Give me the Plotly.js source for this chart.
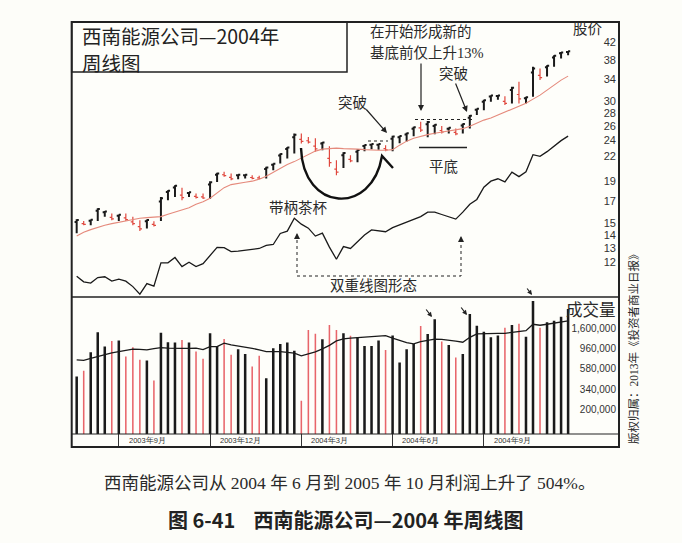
<!DOCTYPE html>
<html><head><meta charset="utf-8">
<script src="https://cdn.plot.ly/plotly-3.0.1.min.js"></script>
<style>html,body{margin:0;padding:0;background:#fdfdf9;} #chart{width:682px;height:543px;}</style>
</head><body><div id="chart"></div>
<script>
// ---- weekly data (≈ Jul 2003 – Nov 2004) ----
const openP = [15.09,14.95,15.20,16.07,15.95,15.48,15.63,15.44,15.10,14.69,15.15,14.88,
 16.95,17.88,18.36,17.58,17.80,17.45,17.40,18.66,19.75,19.74,19.44,19.67,
 19.69,19.43,19.40,20.39,20.89,22.03,22.84,24.42,24.14,23.95,23.22,23.58,
 21.67,20.39,22.06,21.55,22.50,23.26,23.41,23.40,22.89,24.24,24.45,24.83,
 25.66,25.77,26.32,26.04,25.39,25.66,25.12,26.14,27.32,28.58,29.91,30.82,
 30.89,29.96,31.97,31.17,30.53,35.34,34.76,36.38,38.50,39.41,39.72];
const highP = [15.33,15.17,15.30,16.30,16.05,15.84,15.75,15.84,15.53,15.24,15.30,15.15,
 17.40,18.08,18.60,18.32,17.90,17.74,17.74,19.03,19.95,20.07,19.89,19.78,
 19.78,19.69,19.62,20.65,21.05,22.28,23.13,24.96,24.96,24.48,24.30,23.80,
 23.20,21.45,22.45,22.07,22.83,23.43,23.56,23.56,23.36,24.66,24.66,25.08,
 25.93,26.68,26.79,26.33,26.04,25.84,25.70,26.43,27.72,28.80,30.26,31.05,
 31.05,30.88,32.56,33.50,30.76,36.49,36.16,36.84,39.00,39.70,39.90];
const lowP = [14.15,14.81,14.81,15.17,15.53,15.24,15.17,15.17,14.81,14.32,14.53,14.70,
 15.17,17.08,17.40,17.08,17.40,17.25,17.18,17.18,18.95,19.52,19.14,19.25,
 19.33,19.25,19.25,19.33,20.26,21.05,21.66,22.28,23.59,23.59,22.50,22.70,
 20.65,19.69,20.50,21.20,21.20,22.57,22.83,22.77,22.57,22.57,23.63,23.84,
 24.59,25.16,24.45,24.87,24.96,24.96,24.73,24.96,25.70,27.72,28.51,29.90,
 30.26,29.34,29.62,29.62,29.62,30.76,33.83,34.52,36.49,38.27,39.00];
const closeP = [15.26,14.88,15.27,16.23,16.02,15.36,15.72,15.30,14.95,14.50,15.25,14.79,
 17.27,18.02,18.53,17.33,17.87,17.35,17.29,18.92,19.89,19.63,19.29,19.75,
 19.75,19.34,19.32,20.57,21.00,22.21,23.04,24.80,23.86,23.77,22.86,23.73,
 21.16,20.04,22.33,21.37,22.73,23.38,23.52,23.51,22.73,24.53,24.60,25.01,
 25.85,25.46,26.65,26.24,25.18,25.79,24.92,26.34,27.60,28.74,30.16,30.98,
 31.00,29.65,32.38,30.40,30.69,36.15,34.30,36.70,38.85,39.61,39.85];
const priceMA = [13.92,14.23,14.44,14.65,14.81,14.94,15.07,15.20,15.33,15.41,15.46,15.50,
 15.55,15.77,15.95,16.14,16.36,16.69,16.93,17.27,17.77,18.34,18.66,18.82,
 18.92,19.03,19.25,19.58,20.03,20.49,20.91,21.27,21.70,22.19,22.58,22.84,
 22.90,22.97,22.90,22.90,22.84,22.77,22.70,22.70,22.70,22.77,23.36,23.90,
 24.31,24.59,24.80,25.01,25.16,25.30,25.45,25.66,26.03,26.48,26.94,27.25,
 27.72,28.20,28.68,29.09,29.67,30.36,31.06,31.95,32.88,33.83,34.61];
const rsLine = [11.08,10.73,10.65,10.99,11.04,10.77,10.89,10.77,10.44,10.00,10.62,10.47,
 11.95,11.95,12.32,11.70,12.00,11.70,11.90,12.49,13.05,13.03,12.74,12.78,
 12.84,12.90,12.97,13.20,13.27,14.13,14.32,15.41,14.90,14.56,13.92,14.15,
 13.07,12.20,13.11,12.97,13.45,14.00,14.42,14.36,14.27,14.60,14.84,15.07,
 15.31,15.55,15.95,15.95,15.74,15.52,15.33,15.95,16.69,17.15,18.39,19.03,
 19.29,18.95,20.03,19.53,20.07,22.13,21.92,22.51,23.27,23.97,24.59];
const volume = [470000,544000,880000,1470000,1016000,1176000,1185000,786000,1000000,722000,709000,424000,
 1455000,1137000,1125000,1206000,1125000,893000,741000,1430000,1034000,1238000,821000,950000,
 842000,608000,800000,451000,975000,1089000,1125000,910000,252000,1560000,1410000,1230000,
 1770000,1560000,1430000,1340000,1290000,1034000,1034000,1185000,933000,1350000,674000,950000,
 1089000,1730000,1400000,2050000,1155000,1061000,766000,842000,2350000,1740000,1490000,1290000,
 1350000,1650000,1770000,1830000,1310000,3280000,1650000,1900000,1980000,2190000,2670000];
const volumeMA = [722000,714000,750000,790000,836000,864000,893000,922000,950000,945000,933000,963000,
 990000,978000,966000,968000,970000,975000,940000,1016000,1016000,1108000,1061000,1034000,
 1000000,970000,933000,891000,891000,893000,875000,858000,800000,842000,887000,957000,
 1048000,1176000,1238000,1260000,1280000,1277000,1314000,1330000,1347000,1264000,1191000,1125000,
 1089000,1152000,1191000,1229000,1220000,1206000,1170000,1137000,1290000,1408000,1422000,1430000,
 1430000,1430000,1463000,1493000,1531000,1805000,1760000,1805000,1852000,1905000,1965000];
const priceTicks = [12,13,14,15,17,19,22,24,26,28,30,34,38,42];
const volumeTicks = [200000,340000,580000,960000,1600000];
const quarterStartWeek = [6,19,32,45,58];
const quarterLabels = ['2003年9月','2003年12月','2004年3月','2004年6月','2004年9月'];

// ---- derived ----
const week = openP.map((_, i) => i);
const isUp = closeP.map((c, i) => c >= openP[i]);
const upW = week.filter(i => isUp[i]), dnW = week.filter(i => !isUp[i]);

// ---- layout helpers (page pixels -> paper) ----
const W = 682, H = 543;
const px = x => x / W, py = y => 1 - y / H;
const X0 = 71.7, X1 = 619;
const xr = [-0.71, 77.25];
const INK = '#222', RED = '#e0483e';
const cjk = 'Noto Sans CJK SC, sans-serif';
const serif = 'Liberation Serif, Noto Sans CJK SC, serif';
const narrow = 'Liberation Sans Narrow, Arial Narrow, sans-serif';
const NB = '\u00a0';

const traces = [
  {type:'ohlc', x:week, open:openP, high:highP, low:lowP, close:closeP, xaxis:'x', yaxis:'y',
   increasing:{line:{color:'#1a1a1a', width:2}}, decreasing:{line:{color:RED, width:1.2}},
   tickwidth:0.3, hoverinfo:'skip'},
  {type:'scatter', mode:'lines', x:week, y:priceMA, xaxis:'x', yaxis:'y',
   line:{color:'#e58a7c', width:1.1}, hoverinfo:'skip'},
  {type:'scatter', mode:'lines', x:week, y:rsLine, xaxis:'x', yaxis:'y',
   line:{color:'#1a1a1a', width:1.3}, hoverinfo:'skip'},
  {type:'bar', x:upW, y:upW.map(i => volume[i]), xaxis:'x2', yaxis:'y2',
   marker:{color:'#1a1a1a', line:{width:0}}, width:0.36, hoverinfo:'skip'},
  {type:'bar', x:dnW, y:dnW.map(i => volume[i]), xaxis:'x2', yaxis:'y2',
   marker:{color:'#e8656a', line:{width:0}}, width:0.22, hoverinfo:'skip'},
  {type:'scatter', mode:'lines', x:week, y:volumeMA, xaxis:'x2', yaxis:'y2',
   line:{color:'#1a1a1a', width:1.3}, hoverinfo:'skip'}
];

const axBase = {domain:[px(X0), px(X1)], range:xr, showgrid:false, zeroline:false,
  showticklabels:false, ticks:'', showline:false, fixedrange:true};

const pth = pts => pts.map((p, k) => (k ? 'L' : 'M') + px(p[0]) + ',' + py(p[1])).join(' ');

const shapes = [
  {type:'rect', xref:'paper', yref:'paper', x0:px(X0), x1:px(X1), y0:py(447), y1:py(22), line:{color:INK, width:2}},
  {type:'rect', xref:'paper', yref:'paper', x0:px(X0), x1:px(347), y0:py(72), y1:py(22), line:{color:INK, width:1.5}},
  {type:'line', xref:'paper', yref:'paper', x0:px(X0), x1:px(X1), y0:py(297), y1:py(297), line:{color:INK, width:1.5}},
  {type:'line', xref:'paper', yref:'paper', x0:px(X0), x1:px(X1), y0:py(434), y1:py(434), line:{color:INK, width:1}},
  // cup with handle arc
  {type:'path', xref:'paper', yref:'paper',
   path:'M' + px(301) + ',' + py(148) + ' C' + px(303) + ',' + py(212) + ' ' + px(372) + ',' + py(216) + ' ' + px(382) + ',' + py(156) + ' L' + px(393) + ',' + py(168),
   line:{color:'#111', width:2.4}},
  // dotted resistance lines
  {type:'line', xref:'paper', yref:'paper', x0:px(368), x1:px(388), y0:py(141), y1:py(141), line:{color:INK, width:1, dash:'dot'}},
  {type:'line', xref:'paper', yref:'paper', x0:px(415), x1:px(473), y0:py(119.5), y1:py(119.5), line:{color:INK, width:1, dash:'dot'}},
  // flat base line
  {type:'line', xref:'paper', yref:'paper', x0:px(419), x1:px(467), y0:py(147.5), y1:py(147.5), line:{color:INK, width:1.5}},
  // double-line bracket
  {type:'path', xref:'paper', yref:'paper', path:pth([[297,240],[297,276],[461,276],[461,242]]),
   line:{color:INK, width:1, dash:'dot'}}
];

const txt = (t, x, y, size, extra) => Object.assign({text:t, x:px(x), y:py(y), xref:'paper', yref:'paper',
  showarrow:false, xanchor:'center', yanchor:'middle', font:{family:serif, size:size, color:'#2a2a2a'}}, extra || {});
const arr = (x, y, ax, ay, size) => ({text:'', x:px(x), y:py(y), xref:'paper', yref:'paper', showarrow:true,
  ax:ax, ay:ay, arrowhead:2, arrowsize:size || 1, arrowwidth:1.2, arrowcolor:INK});

const annotations = [
  txt('西南能源公司—2004年', 80, 35.5, 19, {xanchor:'left', font:{family:cjk, size:19.5, color:'#222'}}),
  txt('周线图', 80, 62, 19, {xanchor:'left', font:{family:cjk, size:19.5, color:'#222'}}),
  txt('在开始形成新的', 368, 32, 14.5, {xanchor:'left'}),
  txt('基底前仅上升13%', 368, 52.5, 14.5, {xanchor:'left'}),
  txt('突破', 453, 74, 14.5),
  txt('突破', 352, 103, 14.5),
  txt('平底', 443, 167, 14.5),
  txt('带柄茶杯', 298, 207.5, 14.5),
  txt('双重线图形态', 374, 286, 14.5),
  txt('股价', 588, 29, 14.5),
  txt('成交量', 591, 310, 16.5),
  txt('版权归属：2013年《投资者商业日报》', 633, 346, 11.5, {textangle:-90}),
  txt('西南能源公司从 2004 年 6 月到 2005 年 10 月利润上升了 504%。', 349, 483, 17.5),
  txt('<b>图 6-41' + NB + NB + NB + NB + '西南能源公司—2004 年周线图</b>', 345, 519, 20, {font:{family:cjk, size:20, color:'#222'}}),
  arr(421, 111, 0, -49),
  arr(467, 112, -12, -30),
  arr(387, 133, -22, -25),
  arr(297, 233, 0, 7),
  arr(461, 236, 0, 7),
  arr(432, 317, -7, -9, 0.8),
  arr(467, 315, -7, -9, 0.8),
  arr(532, 295, -6, -8, 0.8)
].concat(quarterLabels.map((t, k) => ({text:t, x:quarterStartWeek[k] + 1.1, xref:'x3', y:py(440.5), yref:'paper',
  showarrow:false, xanchor:'left', yanchor:'middle', font:{family:narrow, size:7.5, color:'#333'}})));

const layout = {
  width:W, height:H, margin:{l:0, r:0, t:0, b:0},
  paper_bgcolor:'#fdfdf9', plot_bgcolor:'#fefefa', showlegend:false, barmode:'overlay',
  xaxis:Object.assign({}, axBase, {anchor:'y', rangeslider:{visible:false}}),
  yaxis:{domain:[py(297), py(22)], type:'log', range:[0.993, 1.673], side:'right', anchor:'x',
    ticklabelposition:'inside', tickvals:priceTicks, ticktext:priceTicks.map(String), ticks:'',
    showgrid:false, zeroline:false, showline:false, fixedrange:true,
    tickfont:{family:'Liberation Sans, Arial, sans-serif', size:11, color:'#333'}},
  xaxis2:Object.assign({}, axBase, {anchor:'y2'}),
  yaxis2:{domain:[py(434), py(297)], type:'log', range:[5.03, 6.561], side:'right', anchor:'x2',
    ticklabelposition:'inside', tickvals:volumeTicks, tickformat:',d', ticks:'',
    showgrid:false, zeroline:false, showline:false, fixedrange:true,
    tickfont:{family:narrow, size:10, color:'#333'}},
  xaxis3:Object.assign({}, axBase, {anchor:'y3', tickvals:quarterStartWeek,
    showgrid:true, gridcolor:'#333', gridwidth:1}),
  yaxis3:{domain:[py(447), py(434)], range:[0, 1], visible:false, anchor:'x3', fixedrange:true},
  shapes:shapes, annotations:annotations
};

Plotly.newPlot('chart', traces, layout, {displayModeBar:false, staticPlot:true});
</script></body></html>
